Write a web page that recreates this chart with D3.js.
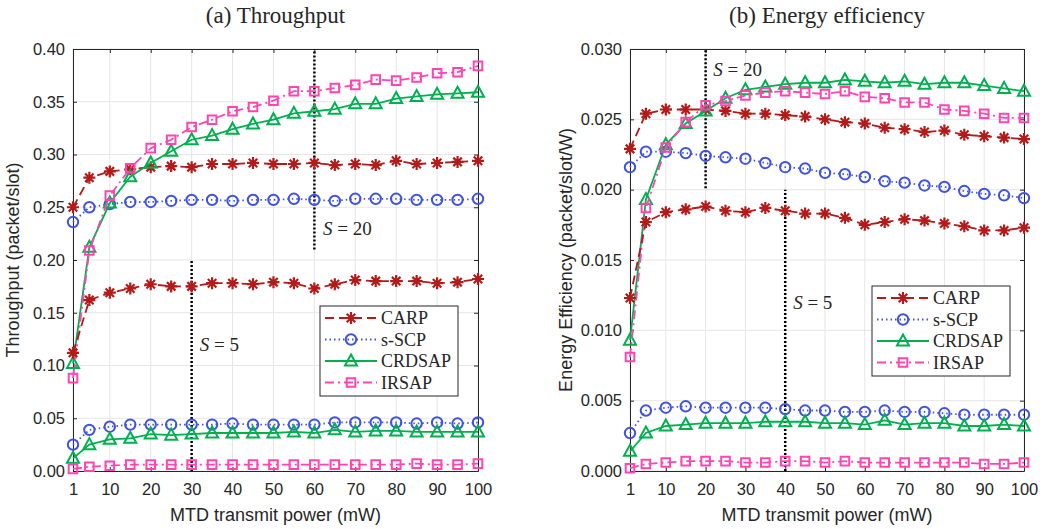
<!DOCTYPE html>
<html>
<head>
<meta charset="utf-8">
<script src="https://cdn.jsdelivr.net/npm/d3@7"></script>
<style>
  body { margin: 0; background: #fff; }
  text { fill: #262626; }
</style>
</head>
<body>
<div id="chart"></div>
<script>
// transmit power levels (mW)
const powers = [1, 5, 10, 15, 20, 25, 30, 35, 40, 45, 50, 55, 60, 65, 70, 75, 80, 85, 90, 95, 100]
const xTicks = [1, 10, 20, 30, 40, 50, 60, 70, 80, 90, 100]
const schemes = ['CARP', 's-SCP', 'CRDSAP', 'IRSAP']

// (a) throughput, S = 20
const thrCarp20 = [0.250, 0.278, 0.284, 0.286, 0.288, 0.289, 0.288, 0.291, 0.291, 0.292, 0.291, 0.291, 0.292, 0.290, 0.291, 0.290, 0.294, 0.291, 0.292, 0.293, 0.294]
const thrScp20  = [0.236, 0.250, 0.253, 0.255, 0.255, 0.256, 0.257, 0.257, 0.256, 0.257, 0.257, 0.258, 0.257, 0.256, 0.258, 0.258, 0.258, 0.257, 0.257, 0.257, 0.258]
const thrCrd20  = [0.102, 0.212, 0.254, 0.279, 0.292, 0.303, 0.314, 0.318, 0.324, 0.329, 0.333, 0.339, 0.341, 0.343, 0.348, 0.348, 0.353, 0.355, 0.357, 0.358, 0.359]
const thrIrs20  = [0.088, 0.209, 0.261, 0.287, 0.306, 0.314, 0.326, 0.333, 0.341, 0.345, 0.351, 0.360, 0.360, 0.363, 0.366, 0.371, 0.370, 0.373, 0.377, 0.378, 0.384]
// (a) throughput, S = 5
const thrCarp5 = [0.112, 0.162, 0.169, 0.173, 0.177, 0.175, 0.175, 0.178, 0.178, 0.177, 0.179, 0.178, 0.173, 0.177, 0.181, 0.180, 0.180, 0.180, 0.178, 0.179, 0.182]
const thrScp5  = [0.025, 0.039, 0.042, 0.044, 0.044, 0.044, 0.044, 0.044, 0.045, 0.044, 0.044, 0.044, 0.044, 0.046, 0.046, 0.046, 0.046, 0.045, 0.046, 0.045, 0.046]
const thrCrd5  = [0.012, 0.025, 0.030, 0.031, 0.035, 0.034, 0.035, 0.036, 0.036, 0.036, 0.036, 0.037, 0.036, 0.039, 0.037, 0.038, 0.038, 0.037, 0.037, 0.037, 0.037]
const thrIrs5  = [0.002, 0.004, 0.005, 0.006, 0.006, 0.006, 0.006, 0.006, 0.006, 0.006, 0.006, 0.006, 0.006, 0.006, 0.006, 0.006, 0.006, 0.007, 0.006, 0.006, 0.007]

// (b) energy efficiency, S = 20
const eeCarp20 = [0.0229, 0.0254, 0.0257, 0.0257, 0.0257, 0.0256, 0.0254, 0.0254, 0.0253, 0.0252, 0.0250, 0.0248, 0.0247, 0.0244, 0.0243, 0.0241, 0.0242, 0.0239, 0.0238, 0.0237, 0.0236]
const eeScp20  = [0.0216, 0.0227, 0.0227, 0.0226, 0.0224, 0.0223, 0.0222, 0.0219, 0.0216, 0.0215, 0.0212, 0.0211, 0.0209, 0.0206, 0.0205, 0.0203, 0.0202, 0.0199, 0.0197, 0.0196, 0.0194]
const eeCrd20  = [0.0093, 0.0193, 0.0232, 0.0247, 0.0256, 0.0265, 0.0271, 0.0273, 0.0275, 0.0276, 0.0276, 0.0278, 0.0277, 0.0276, 0.0277, 0.0275, 0.0276, 0.0276, 0.0274, 0.0272, 0.0270]
const eeIrs20  = [0.0081, 0.0187, 0.0230, 0.0248, 0.0260, 0.0263, 0.0267, 0.0269, 0.0270, 0.0269, 0.0268, 0.0270, 0.0266, 0.0265, 0.0262, 0.0262, 0.0257, 0.0256, 0.0254, 0.0251, 0.0251]
// (b) energy efficiency, S = 5
const eeCarp5 = [0.0123, 0.0177, 0.0184, 0.0186, 0.0188, 0.0185, 0.0184, 0.0187, 0.0185, 0.0183, 0.0183, 0.0180, 0.0175, 0.0177, 0.0179, 0.0178, 0.0176, 0.0174, 0.0171, 0.0171, 0.0173]
const eeScp5  = [0.0027, 0.0043, 0.0045, 0.0046, 0.0045, 0.0045, 0.0045, 0.0045, 0.0044, 0.0043, 0.0043, 0.0042, 0.0042, 0.0043, 0.0042, 0.0042, 0.0041, 0.0040, 0.0040, 0.0040, 0.0040]
const eeCrd5  = [0.0014, 0.0027, 0.0032, 0.0033, 0.0034, 0.0034, 0.0034, 0.0035, 0.0035, 0.0035, 0.0034, 0.0034, 0.0033, 0.0036, 0.0033, 0.0034, 0.0034, 0.0032, 0.0032, 0.0033, 0.0032]
const eeIrs5  = [0.0002, 0.0005, 0.0006, 0.0007, 0.0007, 0.0007, 0.0006, 0.0006, 0.0007, 0.0007, 0.0006, 0.0007, 0.0006, 0.0006, 0.0006, 0.0006, 0.0006, 0.0006, 0.0005, 0.0005, 0.0006]

const thrTicks = [0, 0.05, 0.10, 0.15, 0.20, 0.25, 0.30, 0.35, 0.40]
const eeTicks = [0, 0.005, 0.010, 0.015, 0.020, 0.025, 0.030]

// S markers: [power, yFrom, yTo]
const thrSLines = [[60, 0.21, 0.40], [30, 0, 0.20]]
const eeSLines = [[20, 0.0201, 0.030], [40, 0, 0.020]]

// styles per scheme
const colors = ['#b31b1b', '#4052e0', '#00b050', '#ff45b0']
const dashes = ['9,5', '1.5,3', null, '9,4,2,4']
const markers = ['star', 'circle', 'triangle', 'square']

const W = 1046, H = 529
const svg = d3.select('#chart').append('svg')
    .attr('width', W).attr('height', H)
    .style('font-family', '"Liberation Sans", Arial, sans-serif')

function markerPath(type) {
    if (type === 'star') {
        const r = 6, d = r * Math.SQRT1_2
        return `M${-r},0L${r},0M0,${-r}L0,${r}M${-d},${-d}L${d},${d}M${-d},${d}L${d},${-d}`
    }
    if (type === 'circle') return d3.symbol(d3.symbolCircle, 85)()
    if (type === 'triangle') return 'M0,-6.5L6,4.5L-6,4.5Z'
    return 'M-4.3,-4.3H4.3V4.3H-4.3Z'
}

function drawMarker(sel, i) {
    sel.append('path')
        .attr('d', markerPath(markers[i]))
        .attr('fill', markers[i] === 'star' ? colors[i] : 'none')
        .attr('stroke', colors[i])
        .attr('stroke-width', markers[i] === 'star' ? 2.2 : 2)
}

function panel(cfg) {
    const {left, right, top, bottom} = cfg
    const x = d3.scaleLinear().domain([1, 100]).range([left, right])
    const y = d3.scaleLinear().domain([0, cfg.yTicks[cfg.yTicks.length - 1]]).range([bottom, top])
    const g = svg.append('g')

    // grid
    g.append('g').selectAll('line').data(xTicks).join('line')
        .attr('x1', d => x(d)).attr('x2', d => x(d))
        .attr('y1', top).attr('y2', bottom)
        .attr('stroke', '#e6e6e6').attr('stroke-width', 1)
    g.append('g').selectAll('line').data(cfg.yTicks).join('line')
        .attr('x1', left).attr('x2', right)
        .attr('y1', d => y(d)).attr('y2', d => y(d))
        .attr('stroke', '#e6e6e6').attr('stroke-width', 1)

    // axes (ticks inside, all four sides)
    const tk = 4
    g.append('g').attr('transform', `translate(0,${bottom})`)
        .call(d3.axisBottom(x).tickValues(xTicks).tickSizeInner(-tk).tickSizeOuter(0).tickPadding(12))
    g.append('g').attr('transform', `translate(0,${top})`)
        .call(d3.axisTop(x).tickValues(xTicks).tickSizeInner(-tk).tickSizeOuter(0).tickFormat(''))
    g.append('g').attr('transform', `translate(${left},0)`)
        .call(d3.axisLeft(y).tickValues(cfg.yTicks).tickSizeInner(-tk).tickSizeOuter(0).tickPadding(8).tickFormat(d3.format(cfg.fmt)))
    g.append('g').attr('transform', `translate(${right},0)`)
        .call(d3.axisRight(y).tickValues(cfg.yTicks).tickSizeInner(-tk).tickSizeOuter(0).tickFormat(''))
    g.selectAll('.domain').attr('stroke', '#262626')
    g.selectAll('.tick line').attr('stroke', '#262626')
    g.selectAll('.tick text').attr('font-size', 16.5).attr('fill', '#262626')
        .attr('font-family', '"Liberation Sans", Arial, sans-serif')

    // S reference lines
    g.append('g').selectAll('line').data(cfg.sLines).join('line')
        .attr('x1', d => x(d[0])).attr('x2', d => x(d[0]))
        .attr('y1', d => y(d[1])).attr('y2', d => y(d[2]))
        .attr('stroke', '#000').attr('stroke-width', 2.5).attr('stroke-dasharray', '2,2')

    cfg.sLabels.forEach(l => {
        const t = g.append('text')
            .attr('x', x(l.p)).attr('y', y(l.v))
            .attr('dy', '0.35em')
            .attr('font-family', '"Liberation Serif", "DejaVu Serif", serif')
            .attr('font-size', 19).attr('fill', '#000')
        t.append('tspan').attr('font-style', 'italic').text('S')
        t.append('tspan').text(' = ' + l.s)
    })

    // series
    cfg.series.forEach(s => {
        const i = s.k
        const pts = powers.map((p, j) => [p, s.vals[j]])
        g.append('path')
            .datum(pts)
            .attr('fill', 'none')
            .attr('stroke', colors[i])
            .attr('stroke-width', 1.8)
            .attr('stroke-dasharray', dashes[i])
            .attr('d', d3.line().x(d => x(d[0])).y(d => y(d[1])))
        g.append('g').selectAll('g').data(pts).join('g')
            .attr('transform', d => `translate(${x(d[0])},${y(d[1])})`)
            .each(function () { drawMarker(d3.select(this), i) })
    })

    // axis labels and title
    svg.append('text')
        .attr('x', (left + right) / 2).attr('y', 521)
        .attr('text-anchor', 'middle').attr('font-size', 18)
        .text('MTD transmit power (mW)')
    svg.append('text')
        .attr('transform', `translate(${cfg.ylx},${(top + bottom) / 2}) rotate(-90)`)
        .attr('text-anchor', 'middle').attr('font-size', 18)
        .text(cfg.ylabel)
    svg.append('text')
        .attr('x', (left + right) / 2).attr('y', 23)
        .attr('text-anchor', 'middle')
        .attr('font-family', '"Liberation Serif", "DejaVu Serif", serif')
        .attr('font-size', 23).attr('fill', '#000')
        .text(cfg.title)

    // legend
    const lg = svg.append('g').attr('transform', `translate(${cfg.legend[0]},${cfg.legend[1]})`)
    lg.append('rect').attr('width', 138).attr('height', 90)
        .attr('fill', '#fff').attr('stroke', '#262626').attr('stroke-width', 1)
    schemes.forEach((name, i) => {
        const row = lg.append('g').attr('transform', `translate(0,${12 + i * 21.5})`)
        row.append('line').attr('x1', 5).attr('x2', 57)
            .attr('stroke', colors[i]).attr('stroke-width', 1.8)
            .attr('stroke-dasharray', dashes[i])
        drawMarker(row.append('g').attr('transform', 'translate(31,0)'), i)
        row.append('text').attr('x', 61).attr('dy', '0.35em')
            .attr('font-family', '"Liberation Serif", "DejaVu Serif", serif')
            .attr('font-size', 18).attr('fill', '#000')
            .text(name)
    })
}

panel({
    left: 73, right: 478, top: 49, bottom: 471,
    yTicks: thrTicks, fmt: '.2f',
    title: '(a) Throughput', ylabel: 'Throughput (packet/slot)', ylx: 19,
    sLines: thrSLines,
    sLabels: [{p: 62.1, v: 0.2303, s: 20}, {p: 32, v: 0.120, s: 5}],
    legend: [320, 306],
    series: [
        {k: 0, vals: thrCarp20}, {k: 1, vals: thrScp20}, {k: 2, vals: thrCrd20}, {k: 3, vals: thrIrs20},
        {k: 0, vals: thrCarp5}, {k: 1, vals: thrScp5}, {k: 2, vals: thrCrd5}, {k: 3, vals: thrIrs5}
    ]
})

panel({
    left: 630, right: 1024, top: 49, bottom: 471,
    yTicks: eeTicks, fmt: '.3f',
    title: '(b) Energy efficiency', ylabel: 'Energy Efficiency (packet/slot/W)', ylx: 572,
    sLines: eeSLines,
    sLabels: [{p: 21.9, v: 0.02858, s: 20}, {p: 42, v: 0.0120, s: 5}],
    legend: [872, 286],
    series: [
        {k: 0, vals: eeCarp20}, {k: 1, vals: eeScp20}, {k: 2, vals: eeCrd20}, {k: 3, vals: eeIrs20},
        {k: 0, vals: eeCarp5}, {k: 1, vals: eeScp5}, {k: 2, vals: eeCrd5}, {k: 3, vals: eeIrs5}
    ]
})
</script>
</body>
</html>
